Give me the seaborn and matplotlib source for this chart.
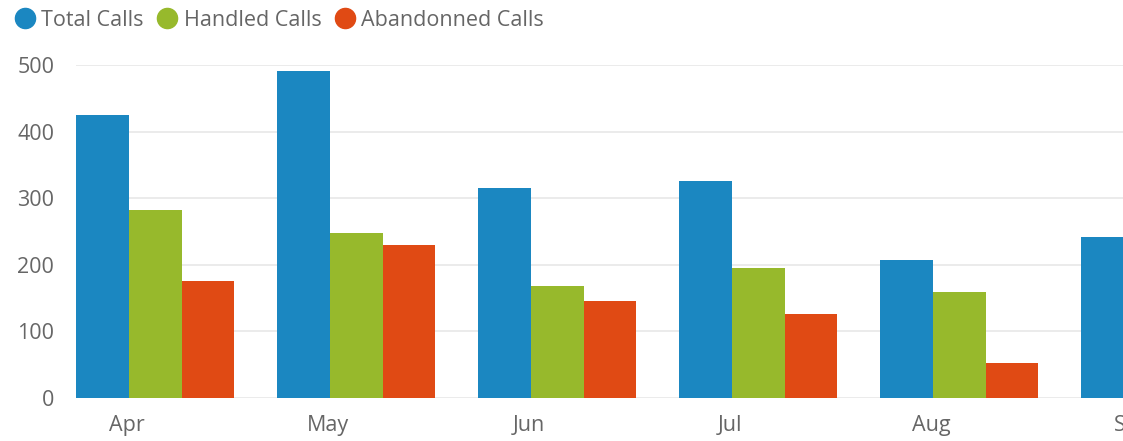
import pandas as pd
import numpy as np
import matplotlib.pyplot as plt
import seaborn as sns
from matplotlib.lines import Line2D

# data (Sep is cut off at the right edge)
months = ['Apr', 'May', 'Jun', 'Jul', 'Aug', 'Sep']
total_calls = [425, 491, 315, 326, 207, 242]
handled_calls = [282, 248, 168, 195, 159, np.nan]
abandoned_calls = [176, 230, 146, 126, 53, np.nan]
series = ['Total Calls', 'Handled Calls', 'Abandonned Calls']
colors = ['#1B87C1', '#97B92C', '#E04A14']

df = pd.DataFrame({
    'Month': months * 3,
    'Series': np.repeat(series, len(months)),
    'Calls': total_calls + handled_calls + abandoned_calls,
})

sns.set_style('white')
plt.rcParams['font.family'] = ['Open Sans', 'DejaVu Sans']

fig = plt.figure(figsize=(11.23, 4.41), dpi=100)
# axes run past the right edge so the Sep group is cut off like in the reference
ax = fig.add_axes([0.068, 0.0975, 1.001, 0.755])

sns.barplot(data=df, x='Month', y='Calls', hue='Series', order=months,
            hue_order=series, palette=colors, width=0.786, gap=0,
            saturation=1, errorbar=None, legend=False, linewidth=0, ax=ax)

ax.set_xlim(-0.393, 5.2)
ax.set_ylim(0, 500)
ax.set_yticks([0, 100, 200, 300, 400, 500])
# month labels sit a bit left of the group centre
ax.set_xticks(np.arange(len(months)) - 0.14, months)
ax.yaxis.grid(True, color='#E8E8E8', linewidth=1.2)
ax.set_axisbelow(True)
for s in ax.spines.values():
    s.set_visible(False)
ax.set_xlabel('')
ax.set_ylabel('')
ax.tick_params(axis='both', length=0, labelsize=15.5, labelcolor='#666666')
ax.tick_params(axis='y', pad=16)
ax.tick_params(axis='x', pad=12)

handles = [Line2D([], [], marker='o', linestyle='', markersize=14.5,
                  markerfacecolor=c, markeredgecolor=c) for c in colors]
fig.legend(handles, series, loc='upper left', bbox_to_anchor=(0.007, 0.985),
           ncol=3, frameon=False, fontsize=15.5, labelcolor='#666666',
           borderaxespad=0, borderpad=0.15, handletextpad=0.1,
           columnspacing=0.45, handlelength=1.3)

plt.savefig('out.png', dpi=100)
